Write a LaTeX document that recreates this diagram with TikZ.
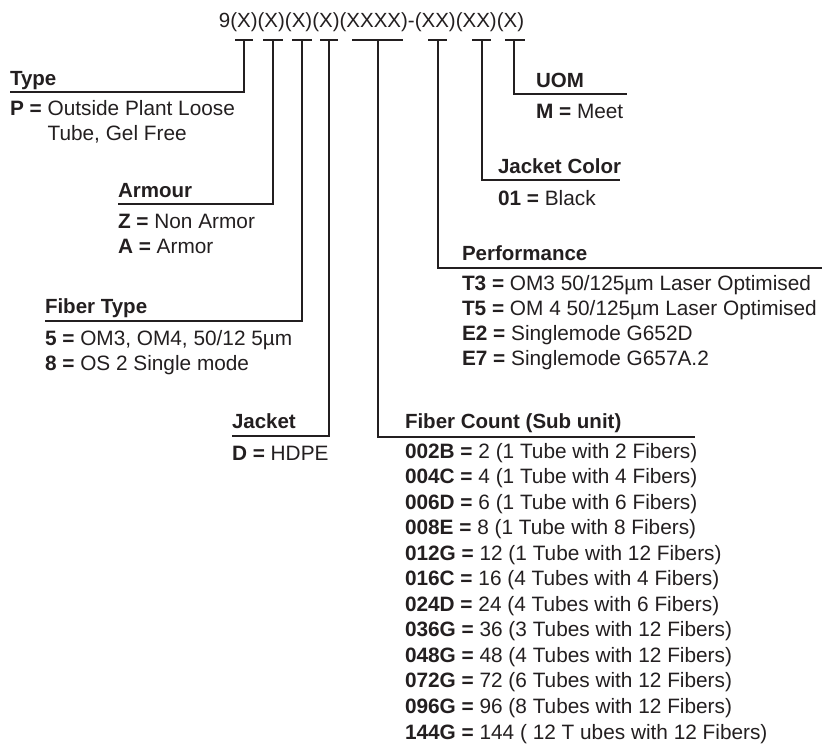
\documentclass[tikz,border=0pt]{standalone}
\usepackage{fontspec}
\setmainfont{Liberation Sans}
\definecolor{ink}{HTML}{231F20}
\newcommand\kv[2]{\textbf{#1 =} #2}
\begin{document}
\begin{tikzpicture}[x=1bp,y=-1bp,
  lbl/.style={anchor=base west, inner sep=0pt, outer sep=0pt, text=ink, font=\fontsize{20.8bp}{25bp}\selectfont},
  hdr/.style={lbl, font=\fontsize{20.5bp}{25bp}\selectfont\bfseries},
  conn/.style={draw=ink, line width=1.3bp},
]
\useasboundingbox (0,0) rectangle (825,747);
\fill[white] (0,0) rectangle (825,747);

% title
\node[lbl, anchor=base, font=\fontsize{20.5bp}{24bp}\selectfont] (title) at (371.5,28) {9(X)(X)(X)(X)(XXXX)-(XX)(XX)(X)};

% bars
\foreach \n/\l/\c/\r in {1/235/244/253, 2/263/273/283, 3/292/302/312, 4/320/329/338, 5/352/378/403, 6/428/438/447, 7/472/482/491, 8/505/514/525}{
  \coordinate (b\n l) at (\l,40);
  \coordinate (b\n) at (\c,40);
  \coordinate (b\n r) at (\r,40);
  \draw[conn] (b\n l) -- (b\n r);
}

% Type
\node[hdr] (type) at (10,85) {Type};
\coordinate (typeU) at (10,92);
\node[lbl] (typeA) at (10,115) {\kv{P}{Outside Plant Loose}};
\node[lbl] (typeB) at (10,140) {\hphantom{\textbf{P =} }Tube, Gel Free};
\draw[conn] (b1) |- (typeU);

% Armour
\node[hdr] (arm) at (118,197) {Armour};
\coordinate (armU) at (118,204);
\node[lbl] (armA) at (118,228) {\kv{Z}{Non Armor}};
\node[lbl] (armB) at (118,253) {\kv{A}{Armor}};
\draw[conn] (b2) |- (armU);

% Fiber Type
\node[hdr] (ft) at (45,313) {Fiber Type};
\coordinate (ftU) at (45,321);
\node[lbl] (ftA) at (45,345) {\kv{5}{OM3, OM4, 50/12 5µm}};
\node[lbl] (ftB) at (45,370) {\kv{8}{OS 2 Single mode}};
\draw[conn] (b3) |- (ftU);

% Jacket
\node[hdr] (jk) at (232,428) {Jacket};
\coordinate (jkU) at (232,436);
\node[lbl] (jkA) at (232,460) {\kv{D}{HDPE}};
\draw[conn] (b4) |- (jkU);

% Fiber Count
\node[hdr] (fc) at (405,428) {Fiber Count (Sub unit)};
\coordinate (fcU) at (695,437);
\draw[conn] (b5) |- (fcU);
\foreach \i/\k/\v in {0/002B/2 (1 Tube with 2 Fibers), 1/004C/4 (1 Tube with 4 Fibers), 2/006D/6 (1 Tube with 6 Fibers), 3/008E/8 (1 Tube with 8 Fibers), 4/012G/12 (1 Tube with 12 Fibers), 5/016C/16 (4 Tubes with 4 Fibers), 6/024D/24 (4 Tubes with 6 Fibers), 7/036G/36 (3 Tubes with 12 Fibers), 8/048G/48 (4 Tubes with 12 Fibers), 9/072G/72 (6 Tubes with 12 Fibers), 10/096G/96 (8 Tubes with 12 Fibers), 11/144G/144 ( 12 T ubes with 12 Fibers)}{
  \node[lbl] (fc\i) at (405,458+25.55*\i) {\kv{\k}{\v}};
}

% Performance
\node[hdr] (pf) at (462,260) {Performance};
\coordinate (pfU) at (822,268);
\node[lbl] (pfA) at (462,290) {\kv{T3}{OM3 50/125µm Laser Optimised}};
\node[lbl] (pfB) at (462,315) {\kv{T5}{OM 4 50/125µm Laser Optimised}};
\node[lbl] (pfC) at (462,340) {\kv{E2}{Singlemode G652D}};
\node[lbl] (pfD) at (462,365) {\kv{E7}{Singlemode G657A.2}};
\draw[conn] (b6) |- (pfU);

% Jacket Color
\node[hdr] (jc) at (498,173) {Jacket Color};
\coordinate (jcU) at (620,180);
\node[lbl] (jcA) at (498,205) {\kv{01}{Black}};
\draw[conn] (b7) |- (jcU);

% UOM
\node[hdr] (uom) at (536,87) {UOM};
\coordinate (uomU) at (627,94);
\node[lbl] (uomA) at (536,118) {\kv{M}{Meet}};
\draw[conn] (b8) |- (uomU);
\end{tikzpicture}
\end{document}
